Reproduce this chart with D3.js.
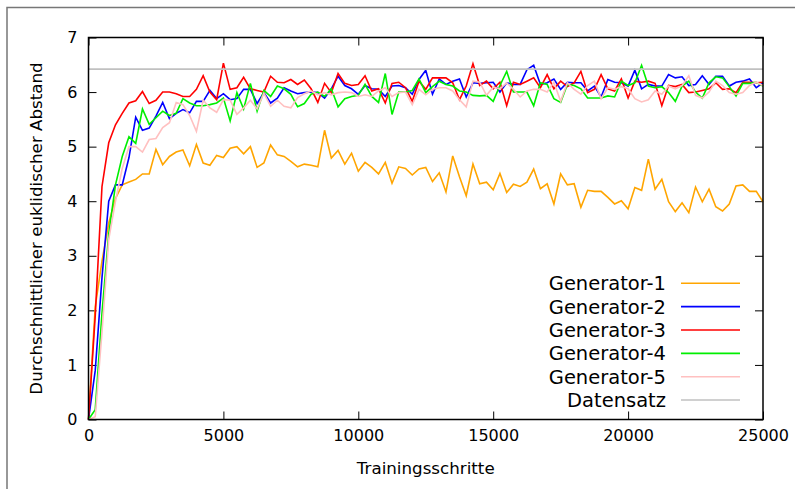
<!DOCTYPE html>
<html><head><meta charset="utf-8">
<script src="https://cdn.jsdelivr.net/npm/d3@7"></script>
<style>
html,body{margin:0;padding:0;background:#fff;}
svg{display:block;font-family:"DejaVu Sans",sans-serif;}
</style></head>
<body>
<svg id="chart" width="795" height="489"></svg>
<script>
// ---- data ----
const stepSize = 250;
const xTicks = [0, 5000, 10000, 15000, 20000, 25000];
const yTicks = [0, 1, 2, 3, 4, 5, 6, 7];
const seriesNames = ["Generator-1", "Generator-2", "Generator-3", "Generator-4", "Generator-5", "Datensatz"];
const seriesColors = ["#ffa500", "#0000ff", "#ff0000", "#00ee00", "#ffc0c0", "#c0c0c0"];

const generator1 = [0.0,2.07,2.9,3.6,4.05,4.3,4.35,4.4,4.5,4.5,4.95,4.67,4.82,4.9,4.94,4.65,5.04,4.7,4.66,4.84,4.8,4.97,5.0,4.87,5.0,4.62,4.7,
5.03,4.85,4.82,4.73,4.63,4.68,4.66,4.63,5.30,4.79,4.93,4.68,4.88,4.55,4.71,4.62,4.5,4.71,4.33,4.63,4.6,4.48,4.59,4.62,
4.36,4.52,4.17,4.83,4.45,4.1,4.68,4.32,4.35,4.21,4.51,4.16,4.31,4.27,4.35,4.59,4.23,4.32,3.95,4.5,4.3,4.32,3.89,4.2,4.18,
4.18,4.07,3.95,4.01,3.86,4.25,4.2,4.77,4.22,4.4,3.99,3.81,3.97,3.79,4.26,3.99,4.22,3.9,3.82,3.95,4.28,4.3,4.18,4.18,3.99];

const generator2 = [0,0.9,2.6,4.0,4.3,4.3,4.8,5.54,5.3,5.34,5.56,5.81,5.51,5.61,5.68,5.62,5.83,5.83,6.03,5.88,5.97,5.86,5.88,6.05,6.05,5.79,5.99,5.8,5.89,6.08,6.02,5.97,
5.99,6.0,5.99,5.89,6.06,6.29,6.12,6.06,5.96,6.12,6.06,6.05,5.92,6.11,6.12,6.08,5.96,6.23,6.4,5.96,6.24,6.14,6.2,
6.24,5.91,6.17,6.16,6.17,6.18,6.0,6.17,6.14,6.14,6.41,6.49,6.14,6.17,6.24,6.05,6.18,6.17,6.17,6.02,6.11,5.91,6.23,
6.18,6.17,6.11,6.4,6.06,6.14,6.11,6.11,6.32,6.26,6.28,6.12,6.14,6.3,6.14,6.29,6.29,6.11,6.18,6.2,6.24,6.08,6.17];

const generator3 = [0,1.9,4.27,5.07,5.4,5.61,5.8,5.84,6.01,5.79,5.85,6.0,6.0,5.97,5.92,5.92,6.05,6.3,6.0,5.86,6.53,6.05,6.08,6.27,6.06,6.03,6.0,6.29,6.18,6.17,6.23,6.14,
6.22,6.06,5.81,6.16,5.99,6.34,6.16,6.12,6.14,6.3,6.02,6.06,5.8,6.16,6.18,6.08,5.83,6.2,6.05,6.26,6.26,6.26,6.17,
5.86,6.11,6.52,6.12,6.2,6.06,6.18,5.75,6.18,6.14,6.2,6.26,6.08,6.32,6.06,6.2,6.1,6.17,6.38,5.99,6.05,6.32,6.06,
6.02,6.24,5.89,6.2,6.18,6.2,6.16,5.75,6.12,6.1,6.14,5.99,6.0,6.03,6.06,6.17,6.05,6.06,5.99,6.18,6.18,6.17,6.18];

const generator4 = [0,0.18,1.95,3.4,4.3,4.82,5.18,5.06,5.69,5.41,5.53,5.65,5.57,5.61,5.88,5.8,5.75,5.75,5.77,5.8,5.89,5.47,5.99,5.69,6.16,5.65,6.03,5.92,6.11,6.06,5.96,5.73,
5.79,5.96,6.0,5.92,6.06,5.73,5.88,5.92,5.94,6.14,5.92,5.81,6.34,5.59,6.0,6.0,6.03,6.24,5.99,6.1,6.2,6.14,6.11,
6.02,6.0,5.94,5.93,5.94,5.83,6.12,6.38,6.0,6.0,6.0,5.75,6.17,6.14,5.88,5.81,6.14,6.12,6.06,5.89,5.89,5.89,5.93,
5.91,6.2,6.12,6.17,6.49,6.11,6.08,6.1,5.99,5.83,6.11,6.2,6.0,5.89,6.17,6.28,6.26,6.1,5.93,6.16,6.16,6.18,6.11];

const generator5 = [0,0.05,1.6,3.3,4.0,4.6,5.0,5.0,4.9,5.13,5.15,5.35,5.44,5.81,5.77,5.57,5.28,5.85,5.71,5.63,5.86,5.85,5.59,5.71,5.85,5.69,5.98,5.74,5.85,5.74,5.71,5.9,
5.97,6.02,5.95,5.99,5.95,5.99,6.0,5.99,5.92,5.95,5.92,6.02,6.08,5.92,5.99,6.0,5.77,6.05,5.95,6.05,6.08,6.08,6.02,
5.86,5.73,6.2,6.18,5.94,6.09,6.06,6.17,6.05,5.91,6.02,6.05,6.05,6.0,6.18,5.83,6.17,6.05,5.96,6.12,6.2,5.88,6.08,
6.05,6.1,6.06,5.88,5.82,5.86,6.02,5.96,6.11,6.06,6.12,6.3,5.94,5.89,6.0,6.2,6.12,5.99,5.96,5.99,6.12,6.18,6.12];

const datensatz = 6.42;

// ---- layout ----
const svg = d3.select("#chart");
const L = 88.5, R = 763, T = 37.5, B = 419.5;
const x = d3.scaleLinear().domain([0, 25000]).range([L, R]);
const y = d3.scaleLinear().domain([0, 7]).range([B, T]);

// outer frame (partially visible)
svg.append("path").attr("d", `M7,489 L7,7.5 L795,7.5`).attr("fill", "none")
  .attr("stroke", "#777").attr("stroke-width", 1.5);

// ticks (inward, mirrored)
const tickLen = 8;
const axisFont = 16;
const gBottom = svg.append("g").attr("transform", `translate(0,${B})`)
  .call(d3.axisBottom(x).tickValues(xTicks).tickSizeInner(-tickLen).tickSizeOuter(0).tickPadding(10).tickFormat(d3.format("d")));
const gTop = svg.append("g").attr("transform", `translate(0,${T})`)
  .call(d3.axisTop(x).tickValues(xTicks).tickSizeInner(-tickLen).tickSizeOuter(0).tickFormat(""));
const gLeft = svg.append("g").attr("transform", `translate(${L},0)`)
  .call(d3.axisLeft(y).tickValues(yTicks).tickSizeInner(-tickLen).tickSizeOuter(0).tickPadding(11).tickFormat(d3.format("d")));
const gRight = svg.append("g").attr("transform", `translate(${R},0)`)
  .call(d3.axisRight(y).tickValues(yTicks).tickSizeInner(-tickLen).tickSizeOuter(0).tickFormat(""));
[gBottom, gTop, gLeft, gRight].forEach(g => {
  g.select(".domain").remove();
  g.selectAll(".tick line").attr("stroke", "#000").attr("stroke-width", 1);
  g.selectAll("text").attr("font-family", "DejaVu Sans").attr("font-size", axisFont).attr("fill", "#000");
});

// data lines
const allSeries = [generator1, generator2, generator3, generator4, generator5];
const line = d3.line().x((d, i) => x(i * stepSize)).y(d => y(d));
const plot = svg.append("g");
allSeries.forEach((s, k) => {
  plot.append("path").datum(s).attr("d", line).attr("fill", "none")
    .attr("stroke", seriesColors[k]).attr("stroke-width", 1.6).attr("stroke-linejoin", "miter");
});
plot.append("line").attr("x1", x(0)).attr("x2", x(25000)).attr("y1", y(datensatz)).attr("y2", y(datensatz))
  .attr("stroke", seriesColors[5]).attr("stroke-width", 1.6);

// axes border
svg.append("rect").attr("x", L).attr("y", T).attr("width", R - L).attr("height", B - T)
  .attr("fill", "none").attr("stroke", "#000").attr("stroke-width", 1.5);

// axis titles
svg.append("text").attr("x", (L + R) / 2).attr("y", 474).attr("text-anchor", "middle")
  .attr("font-size", 16.7).attr("fill", "#000").text("Trainingsschritte");
svg.append("text").attr("transform", `translate(42,${(T + B) / 2}) rotate(-90)`).attr("text-anchor", "middle")
  .attr("font-size", 16.7).attr("fill", "#000").text("Durchschnittlicher euklidischer Abstand");

// legend
const legY0 = 283.3, legDy = 23.35;
const leg = svg.append("g");
seriesNames.forEach((n, k) => {
  const yy = legY0 + k * legDy;
  leg.append("text").attr("x", 666).attr("y", yy).attr("dy", "0.36em").attr("text-anchor", "end")
    .attr("font-size", 19.5).attr("fill", "#000").text(n);
  leg.append("line").attr("x1", 681).attr("x2", 740).attr("y1", yy).attr("y2", yy)
    .attr("stroke", seriesColors[k]).attr("stroke-width", 1.6);
});
</script>
</body></html>
